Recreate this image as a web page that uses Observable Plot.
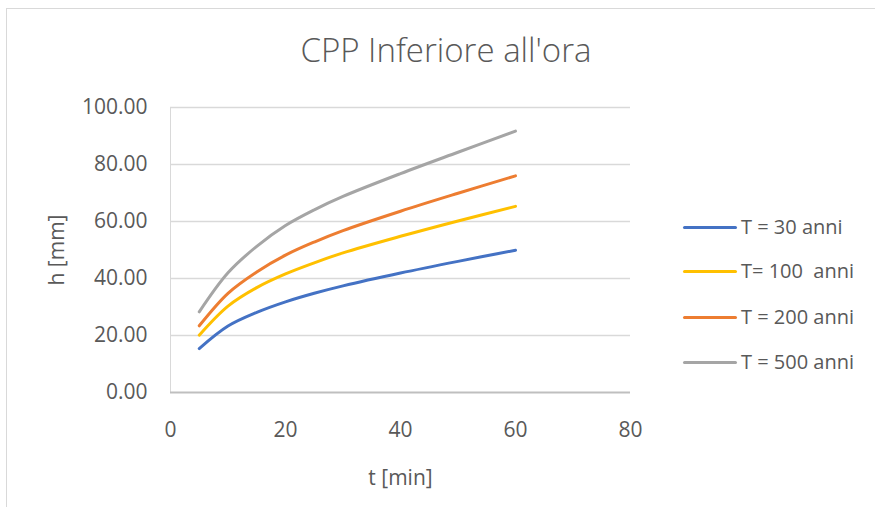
<!DOCTYPE html>
<html>
<head>
<meta charset="utf-8">
<script src="https://cdn.jsdelivr.net/npm/d3@7"></script>
<script src="https://cdn.jsdelivr.net/npm/@observablehq/plot@0.6"></script>
<style>
  html, body { margin: 0; padding: 0; background: #fff; }
  #wrap { position: relative; width: 875px; height: 507px; overflow: hidden; font-family: "Open Sans", sans-serif; }
  #frame { position: absolute; left: 6px; top: 8px; width: 900px; height: 520px; border-left: 1.5px solid #d9d9d9; border-top: 1.5px solid #d9d9d9; }
  #chart { position: absolute; left: 0; top: 0; }
  #title { position: absolute; left: 0; width: 892px; top: 28px; text-align: center; font-size: 33px; line-height: 44px; font-weight: 300; color: #595959; white-space: pre; }
  .leg { position: absolute; left: 683px; height: 20px; display: flex; align-items: center; }
  .leg .sw { width: 54px; height: 3px; border-radius: 2px; }
  .leg .lab { margin-left: 4px; font-size: 20px; color: #595959; white-space: pre; line-height: 20px; }
</style>
</head>
<body>
<div id="wrap">
  <div id="frame"></div>
  <div id="chart"></div>
  <div id="title">CPP Inferiore all'ora</div>
  <div id="legend"></div>
</div>
<script>
// Durations (minutes)
const times = [5, 10, 15, 20, 25, 30, 40, 50, 60];
// Rainfall depth h [mm] for each return period
const h30  = [15.4, 23.3, 28.1, 31.8, 34.8, 37.4, 41.9, 46.0, 49.9];
const h100 = [20.1, 30.3, 36.8, 41.6, 45.5, 49.0, 54.8, 60.2, 65.3];
const h200 = [23.4, 34.8, 42.3, 48.2, 52.8, 56.8, 63.6, 69.9, 76.0];
const h500 = [28.3, 42.0, 51.3, 58.6, 64.1, 68.8, 76.8, 84.3, 91.7];
const seriesNames = ["T = 30 anni", "T= 100  anni", "T = 200 anni", "T = 500 anni"];
const seriesColors = ["#4472c4", "#ffc000", "#ed7d31", "#a5a5a5"];
const xTicks = [0, 20, 40, 60, 80];
const yTicks = [0, 20, 40, 60, 80, 100];

const seriesValues = [h30, h100, h200, h500];
const rows = [];
seriesValues.forEach((vals, i) => {
  vals.forEach((v, j) => rows.push({t: times[j], h: v, s: seriesNames[i]}));
});

const chart = Plot.plot({
  width: 875,
  height: 507,
  marginLeft: 170,
  marginRight: 245,
  marginTop: 107,
  marginBottom: 115,
  style: {fontFamily: "Open Sans, sans-serif", background: "transparent", overflow: "visible"},
  x: {domain: [0, 80]},
  y: {domain: [0, 100]},
  color: {domain: seriesNames, range: seriesColors},
  marks: [
    Plot.gridY(yTicks.filter(d => d > 0), {stroke: "#d9d9d9", strokeOpacity: 1, strokeWidth: 1.5}),
    Plot.ruleX([0], {stroke: "#d9d9d9", strokeWidth: 1}),
    Plot.ruleY([0], {stroke: "#bfbfbf", strokeWidth: 2}),
    Plot.line(rows, {x: "t", y: "h", z: "s", stroke: "s", strokeWidth: 3, curve: "catmull-rom", strokeLinecap: "round", strokeLinejoin: "round"}),
    Plot.axisX(xTicks, {tickSize: 0, tickPadding: 30, fontSize: 21, fill: "#595959",
      label: "t [min]", labelAnchor: "center", labelArrow: "none", labelOffset: 92}),
    Plot.axisY(yTicks, {tickSize: 0, tickPadding: 23, fontSize: 21, fill: "#595959",
      tickFormat: d => d.toFixed(2),
      label: "h [mm]", labelAnchor: "center", labelArrow: "none", labelOffset: 121})
  ]
});
document.getElementById("chart").appendChild(chart);

// Legend
const legendTops = [217, 261, 307, 352];
const legend = document.getElementById("legend");
seriesNames.forEach((name, i) => {
  const d = document.createElement("div");
  d.className = "leg";
  d.style.top = legendTops[i] + "px";
  d.innerHTML = `<span class="sw" style="background:${seriesColors[i]}"></span><span class="lab"></span>`;
  d.querySelector(".lab").textContent = name;
  legend.appendChild(d);
});
</script>
</body>
</html>
